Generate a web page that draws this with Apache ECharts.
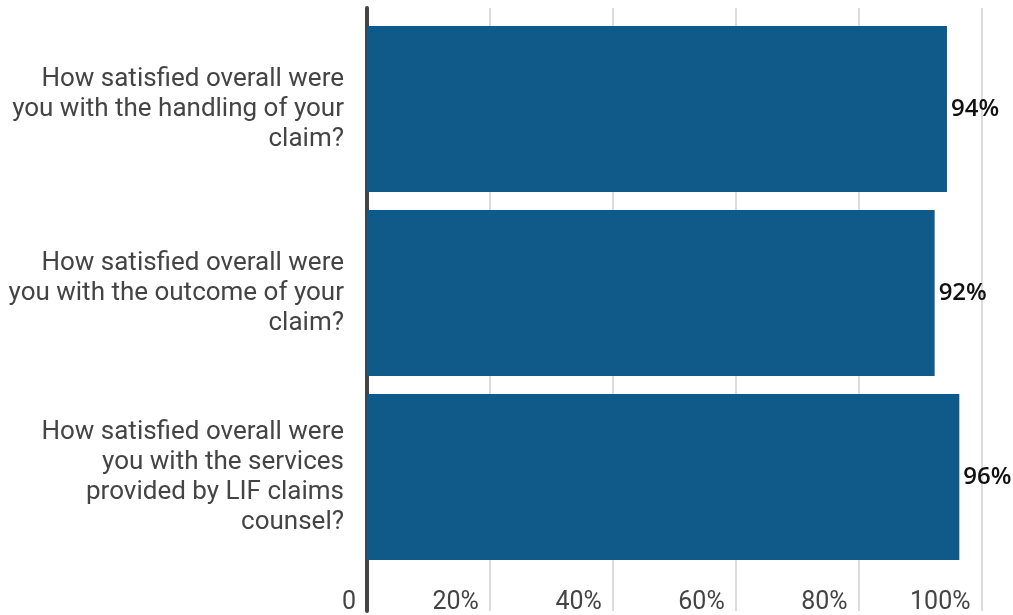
<!DOCTYPE html>
<html>
<head>
<meta charset="utf-8">
<title>Claim satisfaction</title>
<script src="https://cdn.jsdelivr.net/npm/echarts@6/dist/echarts.min.js"></script>
<style>
  html, body { margin: 0; padding: 0; background: #ffffff; }
  #chart { width: 1013px; height: 615px; }
</style>
</head>
<body>
<div id="chart"></div>
<script>
// Survey questions (line breaks as they wrap beside the axis)
const questions = [
  'How satisfied overall were\nyou with the handling of your\nclaim?',
  'How satisfied overall were\nyou with the outcome of your\nclaim?',
  'How satisfied overall were\nyou with the services\nprovided by LIF claims\ncounsel?'
];
// Share of respondents satisfied, in percent
const satisfied = [94, 92, 96];
// Labels for the percentage axis, one per 20 points
const tickLabels = ['0', '20%', '40%', '60%', '80%', '100%'];

const chart = echarts.init(document.getElementById('chart'), null, { renderer: 'canvas' });

const BAR_COLOR = '#0f5a88';
const TEXT_COLOR = '#444444';

chart.setOption({
  animation: false,
  backgroundColor: '#ffffff',
  grid: [
    // plot area holding the bars
    { left: 367, width: 617, top: 17, height: 552, containLabel: false },
    // full-height frame for the gridlines, axis line and tick labels
    { left: 367, width: 614.5, top: 8, bottom: 0, containLabel: false }
  ],
  xAxis: [
    { gridIndex: 0, type: 'value', min: 0, max: 100, show: false },
    {
      gridIndex: 1, type: 'value', min: 0, max: 100, interval: 20,
      axisLine: { show: false },
      axisTick: { show: false },
      splitLine: { show: true, lineStyle: { color: '#dcdcdc', width: 2 } },
      axisLabel: {
        inside: true,
        margin: 0,
        align: 'right',
        lineHeight: 17,
        padding: [0, 11, 0, 0],
        fontFamily: 'Roboto',
        fontSize: 25,
        color: TEXT_COLOR,
        formatter: (v) => tickLabels[Math.round(v / 20)]
      }
    }
  ],
  yAxis: [
    {
      gridIndex: 0, type: 'category', data: questions, inverse: true,
      axisLine: { show: false },
      axisTick: { show: false },
      splitLine: { show: false },
      axisLabel: {
        margin: 23,
        align: 'right',
        fontFamily: 'Roboto',
        fontSize: 26,
        lineHeight: 30,
        color: TEXT_COLOR
      }
    },
    {
      gridIndex: 1, type: 'value', min: 0, max: 1, offset: 2,
      axisLine: { show: true, lineStyle: { color: '#444444', width: 4 } },
      axisTick: { show: false },
      axisLabel: { show: false },
      splitLine: { show: false }
    }
  ],
  series: [
    {
      type: 'bar',
      xAxisIndex: 0,
      yAxisIndex: 0,
      data: satisfied,
      barWidth: 166,
      itemStyle: { color: BAR_COLOR },
      label: {
        show: true,
        position: 'right',
        distance: 4,
        formatter: '{c}%',
        fontFamily: 'Open Sans',
        fontWeight: 600,
        fontSize: 24,
        color: '#111111'
      }
    }
  ]
});
</script>
</body>
</html>
